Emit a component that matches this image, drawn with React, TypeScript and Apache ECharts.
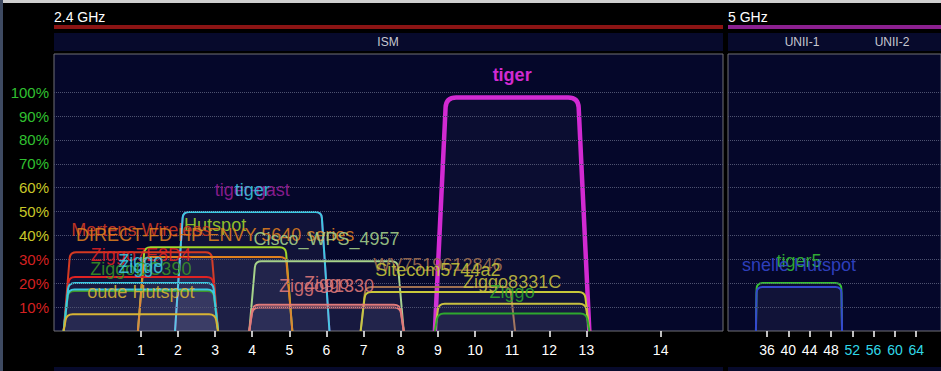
import React, { useEffect, useRef } from 'react';
import * as echarts from 'echarts';

// ---------- data ----------
// 2.4 GHz networks (drawing order)
const ssids24 = ['tiger', 'tiger-gast', 'tiger', 'Hutspot', 'Mertens Wireless', 'DIRECT-FD-HP ENVY 5640 series', 'Cisco_WPS_4957', 'Ziggo7E8D4', 'Ziggo', 'WV7519612846', 'ZiggoDC390', 'Ziggo', 'Sitecom5744a2', 'Ziggo', 'Ziggo91330', 'Ziggo8331C', 'Ziggo', 'oude Hutspot'];
const channels24 = [11, 4, 4, 3, 1, 3, 6, 1, 1, 9, 1, 1, 9, 6, 6, 11, 11, 1];
const spanCenter24 = [11, 4, 4, 3, 1, 3, 6, 1, 1, 9, 1, 1, 10, 6, 6, 11, 11, 1];
const widths24 = [20, 20, 20, 20, 20, 20, 20, 20, 20, 20, 20, 20, 30, 20, 20, 20, 20, 20];
const signal24 = [97.8, 49.8, 49.8, 35.1, 33.0, 31.0, 29.2, 22.6, 20.1, 18.4, 16.8, 17.4, 16.3, 11.0, 9.8, 11.4, 7.3, 7.0];
const colors24 = ['#d22ad2', '#9a1f9a', '#3cc8e0', '#a0d62a', '#d43a22', '#e0801e', '#a6d28a', '#e02222', '#3cc8e0', '#a07050', '#3a9424', '#3cc8e0', '#c8c83a', '#e07a7a', '#e07a7a', '#c8c040', '#2ea82e', '#d8b434'];

// 5 GHz networks
const ssids5 = ['tiger5', 'snelle Hutspot'];
const channels5 = [42, 42];
const spanCenter5 = [42, 42];
const widths5 = [80, 80];
const signal5 = [20.1, 18.4];
const colors5 = ['#36c036', '#3448d0'];

// axes
const tickMHz24 = [2412, 2417, 2422, 2427, 2432, 2437, 2442, 2447, 2452, 2457, 2462, 2467, 2472, 2482];
const tickLabels24 = ['1', '2', '3', '4', '5', '6', '7', '8', '9', '10', '11', '12', '13', '14'];
const tickMHz5 = [5180, 5200, 5220, 5240, 5260, 5280, 5300, 5320];
const tickLabels5 = ['36', '40', '44', '48', '52', '56', '60', '64'];
const gridPct = [10, 20, 30, 40, 50, 60, 70, 80, 90, 100];

const FONT = 'Liberation Sans, Arial, Helvetica, sans-serif';
const BAND_BG = '#070a2c';
const PLOT_BG = '#05072a';

const f24 = (ch: number) => 2407 + 5 * ch;
const f5 = (ch: number) => 5000 + 5 * ch;

function shapeItem(api: any, color: string, bold: boolean) {
  const cf = api.value(0);
  const w = api.value(1);
  const h = api.value(2);
  const half = w / 2 + 0.4;
  const slant = 0.152 * Math.sqrt(h);
  const BL = api.coord([cf - half, 0]);
  const TL = api.coord([cf - half + slant, h]);
  const TR = api.coord([cf + half - slant, h]);
  const BR = api.coord([cf + half, 0]);
  const r = bold ? 10 : 6;
  const unit = (p: number[], q: number[]) => {
    const dx = q[0] - p[0], dy = q[1] - p[1];
    const l = Math.sqrt(dx * dx + dy * dy) || 1;
    return [dx / l, dy / l];
  };
  const rr = Math.min(r, Math.abs(BL[1] - TL[1]) * 0.6);
  const dL = unit(TL, BL);
  const dR = unit(TR, BR);
  const a = [TL[0] + dL[0] * rr, TL[1] + dL[1] * rr];
  const b = [TL[0] + rr, TL[1]];
  const c = [TR[0] - rr, TR[1]];
  const e = [TR[0] + dR[0] * rr, TR[1] + dR[1] * rr];
  const d = `M${BL[0]},${BL[1]} L${a[0]},${a[1]} Q${TL[0]},${TL[1]} ${b[0]},${b[1]} L${c[0]},${c[1]} Q${TR[0]},${TR[1]} ${e[0]},${e[1]} L${BR[0]},${BR[1]}`;
  return {
    type: 'group',
    children: [
      { type: 'path', shape: { pathData: d + ' Z' }, style: { fill: 'rgba(200,200,255,0.035)', stroke: 'none' } },
      { type: 'path', shape: { pathData: d }, style: { fill: 'none', stroke: color, lineWidth: bold ? 4.5 : 2, lineJoin: 'round' } },
    ],
  };
}

function labelItem(api: any, text: string, color: string, bold: boolean) {
  const lf = api.value(0);
  const h = api.value(1);
  const p = api.coord([lf, h]);
  return {
    type: 'text',
    x: p[0],
    y: p[1] - 22,
    style: {
      text,
      fill: color,
      opacity: bold ? 1 : 0.88,
      font: `${bold ? 'bold ' : ''}18px ${FONT}`,
      align: 'center',
      verticalAlign: 'middle',
    },
  };
}

export default function App() {
  const ref = useRef<HTMLDivElement>(null);
  useEffect(() => {
    document.body.style.margin = '0';
    document.body.style.background = '#000';
    const chart = echarts.init(ref.current!, null, { renderer: 'svg' });

    const shapeData24 = ssids24.map((_, i) => [f24(spanCenter24[i]), widths24[i], signal24[i], i]);
    const labelData24 = ssids24.map((_, i) => [f24(channels24[i]), signal24[i], i]);
    const shapeData5 = ssids5.map((_, i) => [f5(spanCenter5[i]), widths5[i], signal5[i], i]);
    const labelData5 = ssids5.map((_, i) => [f5(channels5[i]), signal5[i], i]);

    const yColor = (v: any) => {
      const n = Number(v);
      if (n >= 70) return '#30c030';
      if (n >= 40) return '#c8c828';
      return '#d42020';
    };

    const gridLines = (xi: number) => ({
      type: 'line',
      xAxisIndex: xi,
      yAxisIndex: xi,
      data: [],
      silent: true,
      symbol: 'none',
      markLine: {
        silent: true,
        symbol: 'none',
        label: { show: false },
        lineStyle: { type: 'dotted', color: '#4e5270', width: 1 },
        data: gridPct.map((v) => ({ yAxis: v })),
      },
    });

    const option: any = {
      animation: false,
      backgroundColor: '#000000',
      grid: [
        { left: 54, top: 54, width: 669, height: 277, show: true, backgroundColor: PLOT_BG, borderColor: '#707076', borderWidth: 1 },
        { left: 728, top: 54, width: 224, height: 277, show: true, backgroundColor: PLOT_BG, borderColor: '#707076', borderWidth: 1 },
      ],
      xAxis: [
        {
          type: 'value', gridIndex: 0, min: 2400.3, max: 2490.4,
          axisLine: { show: false },
          splitLine: { show: false },
          axisTick: { show: true, customValues: tickMHz24, length: 6, lineStyle: { color: '#ffffff', width: 1.5 } },
          axisLabel: {
            customValues: tickMHz24, margin: 12, color: '#ffffff', fontSize: 14, fontFamily: FONT,
            formatter: (v: number) => { const k = tickMHz24.indexOf(v); return k >= 0 ? tickLabels24[k] : ''; },
          },
        },
        {
          type: 'value', gridIndex: 1, min: 5143.4, max: 5143.4 + 224 / 1.121,
          axisLine: { show: false },
          splitLine: { show: false },
          axisTick: { show: true, customValues: tickMHz5, length: 6, lineStyle: { color: '#ffffff', width: 1.5 } },
          axisLabel: {
            customValues: tickMHz5, margin: 12, fontSize: 14, fontFamily: FONT,
            color: (v: any) => (Number(v) <= 5240 ? '#ffffff' : '#30d8e8'),
            formatter: (v: number) => { const k = tickMHz5.indexOf(v); return k >= 0 ? tickLabels5[k] : ''; },
          },
        },
      ],
      yAxis: [
        {
          type: 'value', gridIndex: 0, min: 0, max: 116, interval: 10,
          axisLine: { show: false }, axisTick: { show: false }, splitLine: { show: false },
          axisLabel: {
            margin: 5, fontSize: 15, fontFamily: FONT,
            color: yColor,
            formatter: (v: number) => (v > 0 && v <= 100 ? `${v}%` : ''),
          },
        },
        {
          type: 'value', gridIndex: 1, min: 0, max: 116, interval: 10,
          axisLine: { show: false }, axisTick: { show: false }, splitLine: { show: false }, axisLabel: { show: false },
        },
      ],
      series: [
        gridLines(0),
        gridLines(1),
        {
          type: 'custom', xAxisIndex: 0, yAxisIndex: 0, z: 3, clip: true,
          data: shapeData24,
          renderItem: (params: any, api: any) => {
            const i = api.value(3);
            return shapeItem(api, colors24[i], i === 0);
          },
        },
        {
          type: 'custom', xAxisIndex: 1, yAxisIndex: 1, z: 3, clip: true,
          data: shapeData5,
          renderItem: (params: any, api: any) => {
            const i = api.value(3);
            return shapeItem(api, colors5[i], false);
          },
        },
        {
          type: 'custom', xAxisIndex: 0, yAxisIndex: 0, z: 5,
          data: labelData24,
          renderItem: (params: any, api: any) => {
            const i = api.value(2);
            return labelItem(api, ssids24[i], colors24[i], i === 0);
          },
        },
        {
          type: 'custom', xAxisIndex: 1, yAxisIndex: 1, z: 5,
          data: labelData5,
          renderItem: (params: any, api: any) => {
            const i = api.value(2);
            return labelItem(api, ssids5[i], colors5[i], false);
          },
        },
      ],
      graphic: [
        { type: 'rect', left: 0, top: 0, shape: { width: 941, height: 3 }, style: { fill: '#cfcfcf' }, silent: true },
        { type: 'rect', left: 0, top: 0, shape: { width: 3, height: 371 }, style: { fill: '#3e4a62' }, silent: true },
        { type: 'text', x: 54, y: 17, style: { text: '2.4 GHz', fill: '#ffffff', font: `14px ${FONT}`, verticalAlign: 'middle' } },
        { type: 'text', x: 728, y: 17, style: { text: '5 GHz', fill: '#ffffff', font: `14px ${FONT}`, verticalAlign: 'middle' } },
        { type: 'rect', shape: { x: 54, y: 25, width: 669, height: 4 }, style: { fill: '#8c1414' } },
        { type: 'rect', shape: { x: 728, y: 25, width: 213, height: 4 }, style: { fill: '#8c2090' } },
        { type: 'rect', shape: { x: 54, y: 33, width: 669, height: 18 }, style: { fill: BAND_BG } },
        { type: 'rect', shape: { x: 728, y: 33, width: 213, height: 18 }, style: { fill: BAND_BG } },
        { type: 'text', x: 388, y: 42, style: { text: 'ISM', fill: '#c8c8d0', font: `12px ${FONT}`, align: 'center', verticalAlign: 'middle' } },
        { type: 'text', x: 802, y: 42, style: { text: 'UNII-1', fill: '#c8c8d0', font: `12px ${FONT}`, align: 'center', verticalAlign: 'middle' } },
        { type: 'text', x: 892, y: 42, style: { text: 'UNII-2', fill: '#c8c8d0', font: `12px ${FONT}`, align: 'center', verticalAlign: 'middle' } },
        { type: 'rect', shape: { x: 54, y: 367, width: 669, height: 4 }, style: { fill: BAND_BG } },
        { type: 'rect', shape: { x: 728, y: 367, width: 213, height: 4 }, style: { fill: BAND_BG } },
      ],
    };
    chart.setOption(option);
    return () => chart.dispose();
  }, []);
  return <div ref={ref} style={{ width: 941, height: 371 }} />;
}
